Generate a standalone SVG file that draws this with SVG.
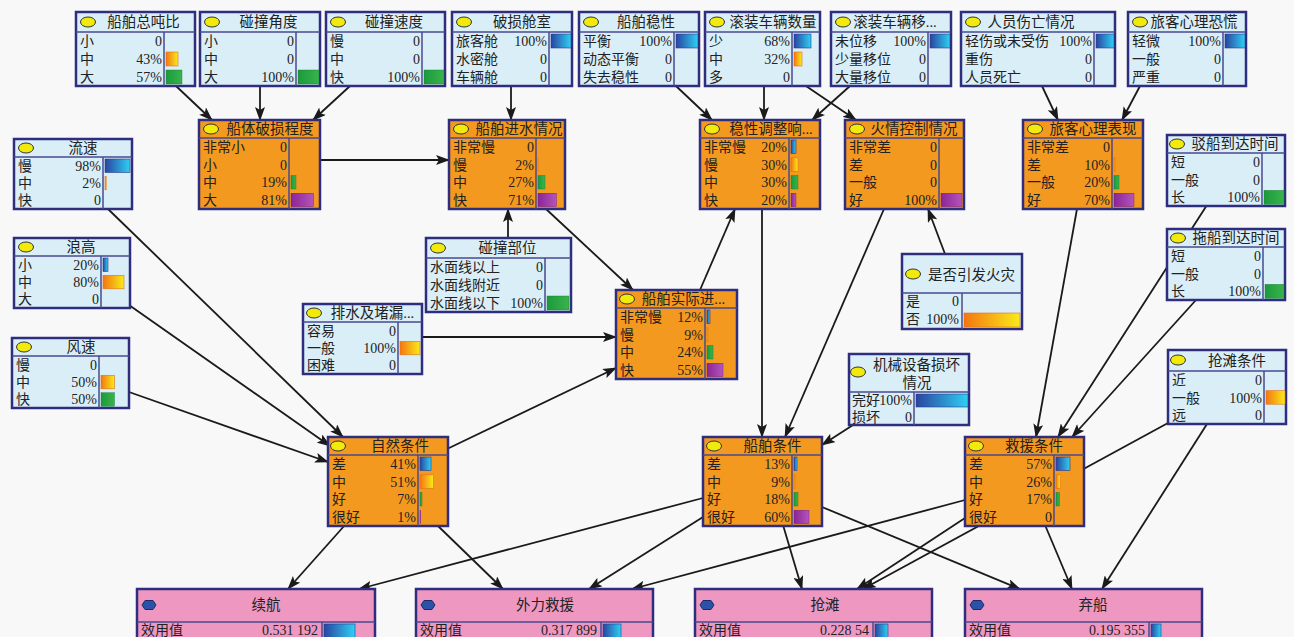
<svg xmlns="http://www.w3.org/2000/svg" width="1294" height="637" viewBox="0 0 1294 637">
<defs>
<style>
.nb{fill:#daeef8;stroke:#2e2d7e;stroke-width:2.5}
.no{fill:#f4991f;stroke:#2e2d7e;stroke-width:2.5}
.np{fill:#ee98c1;stroke:#2e2d7e;stroke-width:2.5}
.sep{stroke:#4a4a90;stroke-width:1.5;fill:none}
.t{font-family:"Liberation Serif","Noto Sans CJK SC",serif;font-size:14px;fill:#222}
.tt{font-family:"Liberation Serif","Noto Sans CJK SC",serif;font-size:14.5px;fill:#222;text-anchor:middle}
.v{text-anchor:end}
.el{fill:#f2ea0c;stroke:#333;stroke-width:1}
.hx{fill:#2a52a8;stroke:#1a2a6a;stroke-width:1}
.c{stroke:#1a1a1a;stroke-width:1.8;fill:none;marker-end:url(#ah)}
.bb{fill:url(#gb);stroke:#2a3a8a;stroke-width:0.6}
.bo{fill:url(#go);stroke:#e0701a;stroke-width:0.6}
.bg{fill:url(#gg);stroke:#1a7a30;stroke-width:0.4}
.bp{fill:url(#gp);stroke:#6a1a80;stroke-width:0.4}
</style>
<linearGradient id="gb" x1="0" y1="0" x2="1" y2="0"><stop offset="0" stop-color="#2a44a0"/><stop offset="1" stop-color="#2ed0f4"/></linearGradient>
<linearGradient id="go" x1="0" y1="0" x2="1" y2="0"><stop offset="0" stop-color="#f47612"/><stop offset="1" stop-color="#f8ec18"/></linearGradient>
<linearGradient id="gg" x1="0" y1="0" x2="1" y2="0"><stop offset="0" stop-color="#1c9a3c"/><stop offset="1" stop-color="#38b44c"/></linearGradient>
<linearGradient id="gp" x1="0" y1="0" x2="1" y2="0"><stop offset="0" stop-color="#8a2596"/><stop offset="1" stop-color="#b455bc"/></linearGradient>
<marker id="ah" markerUnits="userSpaceOnUse" markerWidth="14" markerHeight="10" refX="13" refY="5" orient="auto">
<path d="M0,0 L14,5 L0,10 L3,5 z" fill="#1a1a1a"/>
</marker>
</defs>
<rect width="1294" height="637" fill="#f8f8f8"/>

<g id="connectors">
<line class="c" x1="176" y1="86" x2="212" y2="120"/>
<line class="c" x1="260" y1="86" x2="260" y2="120"/>
<line class="c" x1="350" y1="86" x2="313" y2="120"/>
<line class="c" x1="511" y1="86" x2="511" y2="120"/>
<line class="c" x1="676" y1="86" x2="712" y2="120"/>
<line class="c" x1="764" y1="86" x2="764" y2="120"/>
<line class="c" x1="850" y1="86" x2="812" y2="120"/>
<line class="c" x1="806" y1="86" x2="856" y2="120"/>
<line class="c" x1="1042" y1="86" x2="1058" y2="120"/>
<line class="c" x1="1140" y1="86" x2="1122" y2="120"/>
<line class="c" x1="320" y1="160" x2="449" y2="160"/>
<line class="c" x1="508" y1="238" x2="508" y2="209"/>
<line class="c" x1="546" y1="209" x2="633" y2="290"/>
<line class="c" x1="422" y1="337" x2="616" y2="337"/>
<line class="c" x1="447" y1="449" x2="616" y2="368"/>
<line class="c" x1="700" y1="290" x2="735" y2="209"/>
<line class="c" x1="762" y1="209" x2="762" y2="437"/>
<line class="c" x1="884" y1="209" x2="785" y2="437"/>
<line class="c" x1="945" y1="254" x2="928" y2="209"/>
<line class="c" x1="108" y1="209" x2="343" y2="437"/>
<line class="c" x1="129" y1="305" x2="330" y2="446"/>
<line class="c" x1="129" y1="392" x2="328" y2="462"/>
<line class="c" x1="853" y1="425" x2="822" y2="445"/>
<line class="c" x1="1077" y1="209" x2="1036" y2="437"/>
<line class="c" x1="1207" y1="205" x2="1058" y2="437"/>
<line class="c" x1="1196" y1="300" x2="1072" y2="437"/>
<line class="c" x1="345" y1="525" x2="288" y2="589"/>
<line class="c" x1="703" y1="498" x2="359" y2="589"/>
<line class="c" x1="437" y1="525" x2="503" y2="589"/>
<line class="c" x1="703" y1="517" x2="589" y2="589"/>
<line class="c" x1="965" y1="500" x2="632" y2="589"/>
<line class="c" x1="783" y1="525" x2="802" y2="589"/>
<line class="c" x1="965" y1="518" x2="857" y2="589"/>
<line class="c" x1="1168" y1="423" x2="863" y2="589"/>
<line class="c" x1="822" y1="507" x2="1020" y2="589"/>
<line class="c" x1="1045" y1="525" x2="1072" y2="589"/>
<line class="c" x1="1207" y1="424" x2="1102" y2="589"/>
</g>

<!-- top row -->
<g id="n_zdb">
<rect class="nb" x="76" y="12" width="119" height="74"/>
<path class="sep" d="M76,32 H195 M164,32 V86"/>
<ellipse class="el" cx="88" cy="22" rx="7.5" ry="5"/>
<text class="tt" x="143.5" y="27">船舶总吨比</text>
<text class="t" x="80" y="46">小</text><text class="t v" x="162" y="46">0</text>
<text class="t" x="80" y="64">中</text><text class="t v" x="162" y="64">43%</text>
<text class="t" x="80" y="82">大</text><text class="t v" x="162" y="82">57%</text>
<rect class="bo" x="166" y="52" width="12" height="14"/>
<rect class="bg" x="166" y="70" width="16" height="14"/>
</g>
<g id="n_pzjd">
<rect class="nb" x="200" y="12" width="120" height="74"/>
<path class="sep" d="M200,32 H320 M296,32 V86"/>
<ellipse class="el" cx="212" cy="22" rx="7.5" ry="5"/>
<text class="tt" x="268.5" y="27">碰撞角度</text>
<text class="t" x="204" y="46">小</text><text class="t v" x="294" y="46">0</text>
<text class="t" x="204" y="64">中</text><text class="t v" x="294" y="64">0</text>
<text class="t" x="204" y="82">大</text><text class="t v" x="294" y="82">100%</text>
<rect class="bg" x="298" y="70" width="21" height="14"/>
</g>
<g id="n_pzsd">
<rect class="nb" x="326" y="12" width="119" height="74"/>
<path class="sep" d="M326,32 H445 M422,32 V86"/>
<ellipse class="el" cx="338" cy="22" rx="7.5" ry="5"/>
<text class="tt" x="394" y="27">碰撞速度</text>
<text class="t" x="330" y="46">慢</text><text class="t v" x="420" y="46">0</text>
<text class="t" x="330" y="64">中</text><text class="t v" x="420" y="64">0</text>
<text class="t" x="330" y="82">快</text><text class="t v" x="420" y="82">100%</text>
<rect class="bg" x="424" y="70" width="20" height="14"/>
</g>
<g id="n_psc">
<rect class="nb" x="452" y="12" width="120" height="74"/>
<path class="sep" d="M452,32 H572 M549,32 V86"/>
<ellipse class="el" cx="464" cy="22" rx="7.5" ry="5"/>
<text class="tt" x="522" y="27">破损舱室</text>
<text class="t" x="456" y="46">旅客舱</text><text class="t v" x="547" y="46">100%</text>
<text class="t" x="456" y="64">水密舱</text><text class="t v" x="547" y="64">0</text>
<text class="t" x="456" y="82">车辆舱</text><text class="t v" x="547" y="82">0</text>
<rect class="bb" x="551" y="34" width="20" height="14"/>
</g>
<g id="n_cbwx">
<rect class="nb" x="579" y="12" width="120" height="74"/>
<path class="sep" d="M579,32 H699 M674,32 V86"/>
<ellipse class="el" cx="591" cy="22" rx="7.5" ry="5"/>
<text class="tt" x="646" y="27">船舶稳性</text>
<text class="t" x="583" y="46">平衡</text><text class="t v" x="672" y="46">100%</text>
<text class="t" x="583" y="64">动态平衡</text><text class="t v" x="672" y="64">0</text>
<text class="t" x="583" y="82">失去稳性</text><text class="t v" x="672" y="82">0</text>
<rect class="bb" x="676" y="34" width="22" height="14"/>
</g>
<g id="n_gzsl">
<rect class="nb" x="705" y="12" width="115" height="74"/>
<path class="sep" d="M705,32 H820 M792,32 V86"/>
<ellipse class="el" cx="717" cy="22" rx="7.5" ry="5"/>
<text class="tt" x="773" y="27">滚装车辆数量</text>
<text class="t" x="709" y="46">少</text><text class="t v" x="790" y="46">68%</text>
<text class="t" x="709" y="64">中</text><text class="t v" x="790" y="64">32%</text>
<text class="t" x="709" y="82">多</text><text class="t v" x="790" y="82">0</text>
<rect class="bb" x="794" y="34" width="17" height="14"/>
<rect class="bo" x="794" y="52" width="8" height="14"/>
</g>
<g id="n_gzyw">
<rect class="nb" x="831" y="12" width="120" height="74"/>
<path class="sep" d="M831,32 H951 M928,32 V86"/>
<ellipse class="el" cx="843" cy="22" rx="7.5" ry="5"/>
<text class="tt" x="895" y="27">滚装车辆移...</text>
<text class="t" x="835" y="46">未位移</text><text class="t v" x="926" y="46">100%</text>
<text class="t" x="835" y="64">少量移位</text><text class="t v" x="926" y="64">0</text>
<text class="t" x="835" y="82">大量移位</text><text class="t v" x="926" y="82">0</text>
<rect class="bb" x="930" y="34" width="20" height="14"/>
</g>
<g id="n_rysw">
<rect class="nb" x="961" y="12" width="154" height="74"/>
<path class="sep" d="M961,32 H1115 M1094,32 V86"/>
<ellipse class="el" cx="973" cy="22" rx="7.5" ry="5"/>
<text class="tt" x="1031" y="27">人员伤亡情况</text>
<text class="t" x="965" y="46">轻伤或未受伤</text><text class="t v" x="1092" y="46">100%</text>
<text class="t" x="965" y="64">重伤</text><text class="t v" x="1092" y="64">0</text>
<text class="t" x="965" y="82">人员死亡</text><text class="t v" x="1092" y="82">0</text>
<rect class="bb" x="1096" y="34" width="18" height="14"/>
</g>
<g id="n_lkkh">
<rect class="nb" x="1128" y="12" width="118" height="74"/>
<path class="sep" d="M1128,32 H1246 M1223,32 V86"/>
<ellipse class="el" cx="1140" cy="22" rx="7.5" ry="5"/>
<text class="tt" x="1194" y="27">旅客心理恐慌</text>
<text class="t" x="1132" y="46">轻微</text><text class="t v" x="1221" y="46">100%</text>
<text class="t" x="1132" y="64">一般</text><text class="t v" x="1221" y="64">0</text>
<text class="t" x="1132" y="82">严重</text><text class="t v" x="1221" y="82">0</text>
<rect class="bb" x="1225" y="34" width="20" height="14"/>
</g>

<!-- left inputs -->
<g id="n_ls">
<rect class="nb" x="14" y="139" width="118" height="70"/>
<path class="sep" d="M14,157 H132 M103,157 V209"/>
<ellipse class="el" cx="26" cy="148" rx="7.5" ry="5"/>
<text class="tt" x="83" y="153">流速</text>
<text class="t" x="18" y="170.7">慢</text><text class="t v" x="101" y="170.7">98%</text>
<text class="t" x="18" y="188">中</text><text class="t v" x="101" y="188">2%</text>
<text class="t" x="18" y="205.3">快</text><text class="t v" x="101" y="205.3">0</text>
<rect class="bb" x="105" y="159" width="25" height="13.5"/>
<rect class="bo" x="105" y="176.3" width="1.2" height="13.5"/>
</g>
<g id="n_lg">
<rect class="nb" x="14" y="238" width="116" height="70"/>
<path class="sep" d="M14,256 H130 M101,256 V308"/>
<ellipse class="el" cx="26" cy="247" rx="7.5" ry="5"/>
<text class="tt" x="81" y="252">浪高</text>
<text class="t" x="18" y="269.7">小</text><text class="t v" x="99" y="269.7">20%</text>
<text class="t" x="18" y="287">中</text><text class="t v" x="99" y="287">80%</text>
<text class="t" x="18" y="304.3">大</text><text class="t v" x="99" y="304.3">0</text>
<rect class="bb" x="103" y="258" width="5" height="13.5"/>
<rect class="bo" x="103" y="275.3" width="21" height="13.5"/>
</g>
<g id="n_fs">
<rect class="nb" x="12" y="338" width="117" height="70"/>
<path class="sep" d="M12,356 H129 M99,356 V408"/>
<ellipse class="el" cx="24" cy="347" rx="7.5" ry="5"/>
<text class="tt" x="81" y="352">风速</text>
<text class="t" x="16" y="369.7">慢</text><text class="t v" x="97" y="369.7">0</text>
<text class="t" x="16" y="387">中</text><text class="t v" x="97" y="387">50%</text>
<text class="t" x="16" y="404.3">快</text><text class="t v" x="97" y="404.3">50%</text>
<rect class="bo" x="101" y="375.3" width="13.5" height="13.5"/>
<rect class="bg" x="101" y="392.7" width="13.5" height="13.5"/>
</g>
<g id="n_pzbw">
<rect class="nb" x="426" y="238" width="145" height="74"/>
<path class="sep" d="M426,258 H571 M545,258 V312"/>
<ellipse class="el" cx="438" cy="248" rx="7.5" ry="5"/>
<text class="tt" x="507.5" y="253">碰撞部位</text>
<text class="t" x="430" y="272">水面线以上</text><text class="t v" x="543" y="272">0</text>
<text class="t" x="430" y="290">水面线附近</text><text class="t v" x="543" y="290">0</text>
<text class="t" x="430" y="308">水面线以下</text><text class="t v" x="543" y="308">100%</text>
<rect class="bg" x="547" y="296" width="22" height="14"/>
</g>
<g id="n_psdl">
<rect class="nb" x="303" y="304" width="119" height="70"/>
<path class="sep" d="M303,322 H422 M398,322 V374"/>
<ellipse class="el" cx="314" cy="313" rx="7.5" ry="5"/>
<text class="tt" x="372.5" y="318">排水及堵漏...</text>
<text class="t" x="307" y="335.7">容易</text><text class="t v" x="396" y="335.7">0</text>
<text class="t" x="307" y="353">一般</text><text class="t v" x="396" y="353">100%</text>
<text class="t" x="307" y="370.3">困难</text><text class="t v" x="396" y="370.3">0</text>
<rect class="bo" x="400" y="341.3" width="20" height="13.5"/>
</g>

<!-- right inputs -->
<g id="n_sfhz">
<rect class="nb" x="902" y="254" width="120" height="75"/>
<path class="sep" d="M902,293 H1022 M962,293 V329"/>
<ellipse class="el" cx="913" cy="274" rx="7.5" ry="5"/>
<text class="tt" x="971.5" y="280">是否引发火灾</text>
<text class="t" x="906" y="306">是</text><text class="t v" x="959" y="306">0</text>
<text class="t" x="906" y="324">否</text><text class="t v" x="959" y="324">100%</text>
<rect class="bo" x="964" y="313" width="56" height="14"/>
</g>
<g id="n_jxsb">
<rect class="nb" x="849" y="354" width="120" height="71"/>
<path class="sep" d="M849,392 H969 M914,392 V425"/>
<ellipse class="el" cx="858" cy="372" rx="7.5" ry="5"/>
<text class="tt" x="916.5" y="370">机械设备损坏</text>
<text class="tt" x="917" y="388">情况</text>
<text class="t" x="852" y="405">完好</text><text class="t v" x="912" y="405">100%</text>
<text class="t" x="852" y="421.5">损坏</text><text class="t v" x="912" y="421.5">0</text>
<rect class="bb" x="916" y="394" width="52" height="13"/>
</g>
<g id="n_bcdd">
<rect class="nb" x="1167" y="135" width="118" height="71"/>
<path class="sep" d="M1167,153 H1285 M1262,153 V206"/>
<ellipse class="el" cx="1177" cy="144" rx="7.5" ry="5"/>
<text class="tt" x="1235" y="149">驳船到达时间</text>
<text class="t" x="1171" y="166.8">短</text><text class="t v" x="1260" y="166.8">0</text>
<text class="t" x="1171" y="184.5">一般</text><text class="t v" x="1260" y="184.5">0</text>
<text class="t" x="1171" y="202.2">长</text><text class="t v" x="1260" y="202.2">100%</text>
<rect class="bg" x="1264" y="190.3" width="20" height="14"/>
</g>
<g id="n_tcdd">
<rect class="nb" x="1167" y="229" width="118" height="71"/>
<path class="sep" d="M1167,247 H1285 M1263,247 V300"/>
<ellipse class="el" cx="1178" cy="238" rx="7.5" ry="5"/>
<text class="tt" x="1236" y="243">拖船到达时间</text>
<text class="t" x="1171" y="260.8">短</text><text class="t v" x="1261" y="260.8">0</text>
<text class="t" x="1171" y="278.5">一般</text><text class="t v" x="1261" y="278.5">0</text>
<text class="t" x="1171" y="296.2">长</text><text class="t v" x="1261" y="296.2">100%</text>
<rect class="bg" x="1265" y="284.3" width="19" height="14"/>
</g>
<g id="n_qttj">
<rect class="nb" x="1168" y="350" width="118" height="74"/>
<path class="sep" d="M1168,371 H1286 M1264,371 V424"/>
<ellipse class="el" cx="1178" cy="360" rx="7.5" ry="5"/>
<text class="tt" x="1237" y="366">抢滩条件</text>
<text class="t" x="1172" y="384.8">近</text><text class="t v" x="1262" y="384.8">0</text>
<text class="t" x="1172" y="402.5">一般</text><text class="t v" x="1262" y="402.5">100%</text>
<text class="t" x="1172" y="420.2">远</text><text class="t v" x="1262" y="420.2">0</text>
<rect class="bo" x="1266" y="390.7" width="19" height="13.5"/>
</g>

<!-- orange intermediate nodes -->
<g id="n_cspscd">
<rect class="no" x="199" y="120" width="121" height="89"/>
<path class="sep" d="M199,138 H320 M289,138 V209"/>
<ellipse class="el" cx="211" cy="129" rx="7.5" ry="5"/>
<text class="tt" x="270" y="134">船体破损程度</text>
<text class="t" x="203" y="151.9">非常小</text><text class="t v" x="287" y="151.9">0</text>
<text class="t" x="203" y="169.6">小</text><text class="t v" x="287" y="169.6">0</text>
<text class="t" x="203" y="187.4">中</text><text class="t v" x="287" y="187.4">19%</text>
<text class="t" x="203" y="205.1">大</text><text class="t v" x="287" y="205.1">81%</text>
<rect class="bg" x="291" y="175.5" width="5" height="13.5"/>
<rect class="bp" x="291" y="193.2" width="22.5" height="13.5"/>
</g>
<g id="n_csjs">
<rect class="no" x="449" y="120" width="116" height="89"/>
<path class="sep" d="M449,138 H565 M536,138 V209"/>
<ellipse class="el" cx="461" cy="129" rx="7.5" ry="5"/>
<text class="tt" x="519" y="134">船舶进水情况</text>
<text class="t" x="453" y="151.9">非常慢</text><text class="t v" x="534" y="151.9">0</text>
<text class="t" x="453" y="169.6">慢</text><text class="t v" x="534" y="169.6">2%</text>
<text class="t" x="453" y="187.4">中</text><text class="t v" x="534" y="187.4">27%</text>
<text class="t" x="453" y="205.1">快</text><text class="t v" x="534" y="205.1">71%</text>
<rect class="bo" x="538" y="157.8" width="0.6" height="13.5"/>
<rect class="bg" x="538" y="175.5" width="7" height="13.5"/>
<rect class="bp" x="538" y="193.2" width="18.5" height="13.5"/>
</g>
<g id="n_wxtz">
<rect class="no" x="700" y="120" width="120" height="89"/>
<path class="sep" d="M700,138 H820 M789,138 V209"/>
<ellipse class="el" cx="712" cy="129" rx="7.5" ry="5"/>
<text class="tt" x="771" y="134">稳性调整响...</text>
<text class="t" x="704" y="151.9">非常慢</text><text class="t v" x="787" y="151.9">20%</text>
<text class="t" x="704" y="169.6">慢</text><text class="t v" x="787" y="169.6">30%</text>
<text class="t" x="704" y="187.4">中</text><text class="t v" x="787" y="187.4">30%</text>
<text class="t" x="704" y="205.1">快</text><text class="t v" x="787" y="205.1">20%</text>
<rect class="bb" x="791" y="140" width="5" height="13.5"/>
<rect class="bo" x="791" y="157.8" width="7" height="13.5"/>
<rect class="bg" x="791" y="175.5" width="7" height="13.5"/>
<rect class="bp" x="791" y="193.2" width="5" height="13.5"/>
</g>
<g id="n_hqkz">
<rect class="no" x="845" y="120" width="119" height="89"/>
<path class="sep" d="M845,138 H964 M939,138 V209"/>
<ellipse class="el" cx="857" cy="129" rx="7.5" ry="5"/>
<text class="tt" x="914" y="134">火情控制情况</text>
<text class="t" x="849" y="151.9">非常差</text><text class="t v" x="937" y="151.9">0</text>
<text class="t" x="849" y="169.6">差</text><text class="t v" x="937" y="169.6">0</text>
<text class="t" x="849" y="187.4">一般</text><text class="t v" x="937" y="187.4">0</text>
<text class="t" x="849" y="205.1">好</text><text class="t v" x="937" y="205.1">100%</text>
<rect class="bp" x="941" y="193.2" width="21" height="13.5"/>
</g>
<g id="n_lkbx">
<rect class="no" x="1023" y="120" width="120" height="89"/>
<path class="sep" d="M1023,138 H1143 M1112,138 V209"/>
<ellipse class="el" cx="1035" cy="129" rx="7.5" ry="5"/>
<text class="tt" x="1093" y="134">旅客心理表现</text>
<text class="t" x="1027" y="151.9">非常差</text><text class="t v" x="1110" y="151.9">0</text>
<text class="t" x="1027" y="169.6">差</text><text class="t v" x="1110" y="169.6">10%</text>
<text class="t" x="1027" y="187.4">一般</text><text class="t v" x="1110" y="187.4">20%</text>
<text class="t" x="1027" y="205.1">好</text><text class="t v" x="1110" y="205.1">70%</text>
<rect class="bo" x="1114" y="157.8" width="1.5" height="13.5"/>
<rect class="bg" x="1114" y="175.5" width="5" height="13.5"/>
<rect class="bp" x="1114" y="193.2" width="20" height="13.5"/>
</g>
<g id="n_sjjs">
<rect class="no" x="616" y="290" width="121" height="89"/>
<path class="sep" d="M616,308 H737 M705,308 V379"/>
<ellipse class="el" cx="627" cy="299" rx="7.5" ry="5"/>
<text class="tt" x="683.5" y="304">船舶实际进...</text>
<text class="t" x="620" y="321.9">非常慢</text><text class="t v" x="703" y="321.9">12%</text>
<text class="t" x="620" y="339.6">慢</text><text class="t v" x="703" y="339.6">9%</text>
<text class="t" x="620" y="357.4">中</text><text class="t v" x="703" y="357.4">24%</text>
<text class="t" x="620" y="375.1">快</text><text class="t v" x="703" y="375.1">55%</text>
<rect class="bb" x="707" y="310" width="3" height="13.5"/>
<rect class="bo" x="707" y="327.8" width="1.5" height="13.5"/>
<rect class="bg" x="707" y="345.5" width="6" height="13.5"/>
<rect class="bp" x="707" y="363.2" width="16" height="13.5"/>
</g>
<g id="n_zrtj">
<rect class="no" x="328" y="437" width="120" height="89"/>
<path class="sep" d="M328,455 H448 M418,455 V526"/>
<ellipse class="el" cx="338" cy="446" rx="7.5" ry="5"/>
<text class="tt" x="400" y="451">自然条件</text>
<text class="t" x="332" y="468.9">差</text><text class="t v" x="416" y="468.9">41%</text>
<text class="t" x="332" y="486.6">中</text><text class="t v" x="416" y="486.6">51%</text>
<text class="t" x="332" y="504.4">好</text><text class="t v" x="416" y="504.4">7%</text>
<text class="t" x="332" y="522.1">很好</text><text class="t v" x="416" y="522.1">1%</text>
<rect class="bb" x="420" y="457" width="11" height="13.5"/>
<rect class="bo" x="420" y="474.8" width="13.5" height="13.5"/>
<rect class="bg" x="420" y="492.5" width="2" height="13.5"/>
<rect class="bp" x="420" y="510.2" width="0.8" height="13.5"/>
</g>
<g id="n_cbtj">
<rect class="no" x="703" y="437" width="119" height="89"/>
<path class="sep" d="M703,455 H822 M792,455 V526"/>
<ellipse class="el" cx="714" cy="446" rx="7.5" ry="5"/>
<text class="tt" x="772.5" y="451">船舶条件</text>
<text class="t" x="707" y="468.9">差</text><text class="t v" x="790" y="468.9">13%</text>
<text class="t" x="707" y="486.6">中</text><text class="t v" x="790" y="486.6">9%</text>
<text class="t" x="707" y="504.4">好</text><text class="t v" x="790" y="504.4">18%</text>
<text class="t" x="707" y="522.1">很好</text><text class="t v" x="790" y="522.1">60%</text>
<rect class="bb" x="794" y="457" width="3" height="13.5"/>
<rect class="bo" x="794" y="474.8" width="1.5" height="13.5"/>
<rect class="bg" x="794" y="492.5" width="4" height="13.5"/>
<rect class="bp" x="794" y="510.2" width="15" height="13.5"/>
</g>
<g id="n_jytj">
<rect class="no" x="965" y="437" width="119" height="89"/>
<path class="sep" d="M965,455 H1084 M1054,455 V526"/>
<ellipse class="el" cx="976" cy="446" rx="7.5" ry="5"/>
<text class="tt" x="1034" y="451">救援条件</text>
<text class="t" x="969" y="468.9">差</text><text class="t v" x="1052" y="468.9">57%</text>
<text class="t" x="969" y="486.6">中</text><text class="t v" x="1052" y="486.6">26%</text>
<text class="t" x="969" y="504.4">好</text><text class="t v" x="1052" y="504.4">17%</text>
<text class="t" x="969" y="522.1">很好</text><text class="t v" x="1052" y="522.1">0</text>
<rect class="bb" x="1056" y="457" width="14" height="13.5"/>
<rect class="bo" x="1056" y="474.8" width="4.5" height="13.5"/>
<rect class="bg" x="1056" y="492.5" width="3.5" height="13.5"/>
</g>

<!-- utility nodes -->
<g id="u_xh">
<rect class="np" x="137" y="589" width="238" height="60"/>
<path class="sep" d="M137,622 H375 M322,622 V640"/>
<polygon class="hx" points="142,605 145,600.5 153,600.5 156,605 153,609.5 145,609.5"/>
<text class="tt" x="266" y="610">续航</text>
<text class="t" x="141" y="635">效用值</text><text class="t v" x="318" y="635">0.531 192</text>
<rect class="bb" x="324" y="624" width="31" height="14"/>
</g>
<g id="u_wljy">
<rect class="np" x="416" y="589" width="237" height="60"/>
<path class="sep" d="M416,622 H653 M601,622 V640"/>
<polygon class="hx" points="421,605 424,600.5 432,600.5 435,605 432,609.5 424,609.5"/>
<text class="tt" x="545" y="610">外力救援</text>
<text class="t" x="420" y="635">效用值</text><text class="t v" x="597" y="635">0.317 899</text>
<rect class="bb" x="603" y="624" width="18" height="14"/>
</g>
<g id="u_qt">
<rect class="np" x="695" y="589" width="237" height="60"/>
<path class="sep" d="M695,622 H932 M873,622 V640"/>
<polygon class="hx" points="700,605 703,600.5 711,600.5 714,605 711,609.5 703,609.5"/>
<text class="tt" x="825" y="610">抢滩</text>
<text class="t" x="699" y="635">效用值</text><text class="t v" x="869" y="635">0.228 54</text>
<rect class="bb" x="875" y="624" width="13" height="14"/>
</g>
<g id="u_qc">
<rect class="np" x="965" y="589" width="237" height="60"/>
<path class="sep" d="M965,622 H1202 M1149,622 V640"/>
<polygon class="hx" points="970,605 973,600.5 981,600.5 984,605 981,609.5 973,609.5"/>
<text class="tt" x="1093" y="610">弃船</text>
<text class="t" x="969" y="635">效用值</text><text class="t v" x="1145" y="635">0.195 355</text>
<rect class="bb" x="1151" y="624" width="10" height="14"/>
</g>
</svg>
